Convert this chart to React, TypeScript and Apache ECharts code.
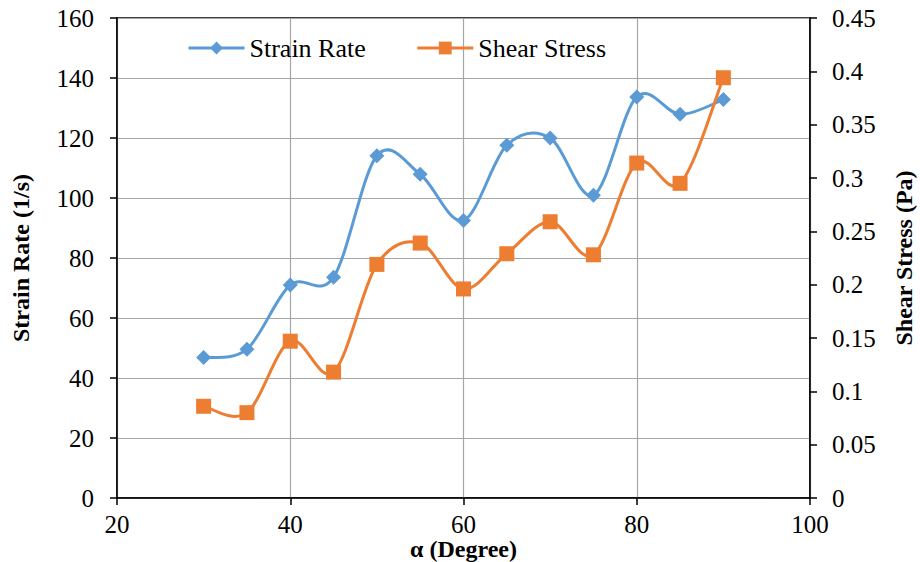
import React, { useEffect, useRef } from "react";
import * as echarts from "echarts";

const angles = [30, 35, 40, 45, 50, 55, 60, 65, 70, 75, 80, 85, 90];
const strainRate = [46.8, 49.6, 71.0, 73.6, 114.1, 107.9, 92.5, 117.6, 120.0, 100.9, 133.7, 127.9, 132.8];
const shearStress = [0.086, 0.08, 0.147, 0.118, 0.219, 0.239, 0.196, 0.229, 0.259, 0.228, 0.314, 0.295, 0.394];
const xTicks = { min: 20, max: 100, interval: 20 };
const leftTicks = { min: 0, max: 160, interval: 20 };
const rightTicks = { min: 0, max: 0.45, interval: 0.05 };

const FONT = "'Liberation Serif', 'Times New Roman', Times, serif";
const BLUE = "#5B9BD5";
const ORANGE = "#ED7D31";

function smoothCurve(ys: number[], yAxisIndex: number, color: string, z: number) {
  return {
    type: "custom",
    coordinateSystem: "cartesian2d",
    xAxisIndex: 0,
    yAxisIndex,
    silent: true,
    z,
    encode: { x: 0, y: 1 },
    data: angles.map((a, i) => [a, ys[i]]),
    renderItem: (params: any, api: any) => {
      if (params.dataIndex !== 0) return null;
      const pts: number[][] = angles.map((a, i) => api.coord([a, ys[i]]));
      let d = `M${pts[0][0]},${pts[0][1]}`;
      for (let i = 0; i < pts.length - 1; i++) {
        const p0 = pts[i - 1] || pts[i];
        const p1 = pts[i];
        const p2 = pts[i + 1];
        const p3 = pts[i + 2] || pts[i + 1];
        const c1x = p1[0] + (p2[0] - p0[0]) / 6;
        const c1y = p1[1] + (p2[1] - p0[1]) / 6;
        const c2x = p2[0] - (p3[0] - p1[0]) / 6;
        const c2y = p2[1] - (p3[1] - p1[1]) / 6;
        d += ` C${c1x},${c1y} ${c2x},${c2y} ${p2[0]},${p2[1]}`;
      }
      return {
        type: "path",
        shape: { pathData: d },
        style: { fill: "none", stroke: color, lineWidth: 3, lineJoin: "round", lineCap: "round" },
      };
    },
  };
}

export default function App() {
  const ref = useRef<HTMLDivElement>(null);
  useEffect(() => {
    if (!ref.current) return;
    const chart = echarts.init(ref.current, null, { renderer: "svg" });
    const axisLineStyle = { color: "#000", width: 1.5 };
    const labelStyle = { fontFamily: FONT, fontSize: 25, color: "#000" };
    const nameStyle = { fontFamily: FONT, fontSize: 24, fontWeight: "bold", color: "#000" };
    chart.setOption({
      animation: false,
      backgroundColor: "#fff",
      textStyle: { fontFamily: FONT },
      grid: {
        left: 117,
        right: 110,
        top: 18,
        bottom: 64,
        show: true,
        borderColor: "#000",
        borderWidth: 1.5,
        containLabel: false,
        outerBoundsMode: "none",
      },
      legend: {
        left: 187,
        top: 35,
        padding: 0,
        itemWidth: 56,
        itemHeight: 16,
        itemGap: 50,
        textStyle: { fontFamily: FONT, fontSize: 26, color: "#000" },
        data: [
          { name: "Strain Rate", lineStyle: { opacity: 1, width: 3, color: BLUE } },
          { name: "Shear Stress", lineStyle: { opacity: 1, width: 3, color: ORANGE } },
        ],
      },
      xAxis: {
        type: "value",
        min: xTicks.min,
        max: xTicks.max,
        interval: xTicks.interval,
        name: "α (Degree)",
        nameLocation: "middle",
        nameGap: 39,
        nameMoveOverlap: false,
        nameTextStyle: nameStyle,
        axisLine: { show: true, lineStyle: axisLineStyle },
        axisTick: { show: true, length: 7, lineStyle: { color: "#000", width: 1.5 } },
        axisLabel: { ...labelStyle, margin: 14 },
        splitLine: { show: true, lineStyle: { color: "#A6A6A6", width: 1.2 } },
      },
      yAxis: [
        {
          type: "value",
          position: "left",
          min: leftTicks.min,
          max: leftTicks.max,
          interval: leftTicks.interval,
          name: "Strain Rate (1/s)",
          nameLocation: "middle",
          nameRotate: 90,
          nameGap: 84,
          nameMoveOverlap: false,
          nameTextStyle: nameStyle,
          axisLine: { show: true, lineStyle: axisLineStyle },
          axisTick: { show: true, length: 7, lineStyle: { color: "#000", width: 1.5 } },
          axisLabel: { ...labelStyle, margin: 23 },
          splitLine: { show: true, lineStyle: { color: "#A6A6A6", width: 1.2 } },
        },
        {
          type: "value",
          position: "right",
          min: rightTicks.min,
          max: rightTicks.max,
          interval: rightTicks.interval,
          name: "Shear Stress (Pa)",
          nameLocation: "middle",
          nameRotate: 90,
          nameGap: 82,
          nameMoveOverlap: false,
          nameTextStyle: nameStyle,
          axisLine: { show: true, lineStyle: axisLineStyle },
          axisTick: { show: true, length: 7, lineStyle: { color: "#000", width: 1.5 } },
          axisLabel: {
            ...labelStyle,
            margin: 22,
            formatter: (v: number) => String(Math.round(v * 100) / 100),
          },
          splitLine: { show: false },
        },
      ],
      series: [
        smoothCurve(strainRate, 0, BLUE, 2),
        {
          name: "Strain Rate",
          type: "line",
          yAxisIndex: 0,
          z: 3,
          symbol: "diamond",
          symbolSize: 15,
          itemStyle: { color: BLUE },
          lineStyle: { color: BLUE, width: 3, opacity: 0 },
          data: angles.map((a, i) => [a, strainRate[i]]),
        },
        smoothCurve(shearStress, 1, ORANGE, 4),
        {
          name: "Shear Stress",
          type: "line",
          yAxisIndex: 1,
          z: 5,
          symbol: "rect",
          symbolSize: 15,
          itemStyle: { color: ORANGE },
          lineStyle: { color: ORANGE, width: 3, opacity: 0 },
          data: angles.map((a, i) => [a, shearStress[i]]),
        },
      ],
    });
    return () => chart.dispose();
  }, []);
  return (
    <div
      ref={ref}
      style={{ position: "fixed", left: 0, top: 0, width: 920, height: 562, background: "#fff" }}
    />
  );
}
